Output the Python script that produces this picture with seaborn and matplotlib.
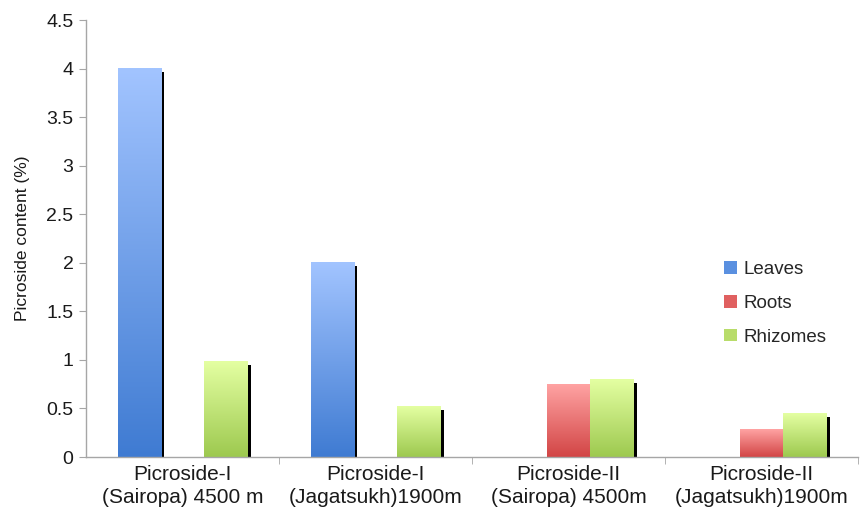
import numpy as np
import pandas as pd
import matplotlib
matplotlib.use("Agg")
import matplotlib.pyplot as plt
from matplotlib.patches import Rectangle
from matplotlib.colors import LinearSegmentedColormap
import seaborn as sns

# Picroside content by sample and plant part
samples = [
    "Picroside-I\n(Sairopa) 4500 m",
    "Picroside-I\n(Jagatsukh)1900m",
    "Picroside-II\n(Sairopa) 4500m",
    "Picroside-II\n(Jagatsukh)1900m",
]
parts = ["Leaves", "Roots", "Rhizomes"]
leaves = [4.0, 2.0, 0.0, 0.0]
roots = [0.0, 0.0, 0.75, 0.28]
rhizomes = [0.98, 0.52, 0.80, 0.45]

df = pd.DataFrame({
    "sample": samples * 3,
    "part": [p for p in parts for _ in samples],
    "value": leaves + roots + rhizomes,
})

# top (light) and bottom (dark) colours of each gradient fill
grad = {
    "Leaves": ("#a2c4ff", "#3f7bd2"),
    "Roots": ("#ffa3a3", "#d24545"),
    "Rhizomes": ("#e4ffa2", "#9dc94f"),
}
mid = {"Leaves": "#5a90e0", "Roots": "#e06060", "Rhizomes": "#b8dc6a"}

sns.set_style("white")
plt.rcParams["font.family"] = ["Liberation Sans", "DejaVu Sans"]

fig = plt.figure(figsize=(8.61, 5.19), dpi=100)
ax = fig.add_axes([86 / 861, 1 - 457 / 519, 772 / 861, (457 - 20) / 519])

sns.barplot(data=df, x="sample", y="value", hue="part", hue_order=parts,
            palette=mid, width=0.67, gap=0, ax=ax, legend=False,
            errorbar=None, saturation=1)

ax.set_xlim(-0.5, 3.5)
ax.set_ylim(0, 4.5)

# Gradient fill and a dark drop shadow on every bar
ppx = 4.0 / 772          # data units per pixel in x
ppy = 4.5 / 437          # data units per pixel in y
for container, part in zip(ax.containers, parts):
    cmap = LinearSegmentedColormap.from_list(part, [grad[part][1], grad[part][0]])
    for bar in container:
        h = bar.get_height()
        if h <= 0:
            bar.set_visible(False)
            continue
        x0 = bar.get_x()
        w = bar.get_width()
        bar.set_facecolor("none")
        bar.set_edgecolor("none")
        ax.add_patch(Rectangle((x0 + w, 0), 3.5 * ppx, max(h - 3.5 * ppy, 0),
                               facecolor="black", edgecolor="none", zorder=1.5))
        ax.imshow(np.linspace(0, 1, 256).reshape(-1, 1), cmap=cmap,
                  origin="lower", aspect="auto", extent=(x0, x0 + w, 0, h),
                  zorder=2, interpolation="bilinear")
ax.set_xlim(-0.5, 3.5)
ax.set_ylim(0, 4.5)

# Axes styling
for s in ["top", "right"]:
    ax.spines[s].set_visible(False)
for s in ["left", "bottom"]:
    ax.spines[s].set_color("#a6a6a6")
    ax.spines[s].set_linewidth(1.0)

ax.set_yticks(np.arange(0, 4.51, 0.5))
ax.set_yticklabels(["0", "0.5", "1", "1.5", "2", "2.5", "3", "3.5", "4", "4.5"])
ax.tick_params(axis="y", length=5, color="#a6a6a6", labelsize=14,
               labelcolor="#1a1a1a", pad=4, left=True)
ax.set_xticks(range(4))
ax.set_xticklabels(samples, linespacing=1.25)
ax.tick_params(axis="x", which="major", length=0, labelsize=15,
               labelcolor="#1a1a1a", pad=6)
ax.set_xticks([0.5, 1.5, 2.5, 3.5], minor=True)
ax.tick_params(axis="x", which="minor", length=5, color="#a6a6a6", bottom=True)

ax.set_xlabel("")
ax.set_ylabel("Picroside content (%)", fontsize=12.5, color="#1a1a1a", labelpad=12)

handles = [Rectangle((0, 0), 1, 1, facecolor=mid[p], edgecolor="none") for p in parts]
ax.legend(handles, parts, loc="upper left", bbox_to_anchor=(0.805, 0.487),
          frameon=False, fontsize=13.5, handlelength=0.65, handleheight=0.65,
          handletextpad=0.35, labelspacing=0.9)

fig.savefig("out.png", dpi=100)
